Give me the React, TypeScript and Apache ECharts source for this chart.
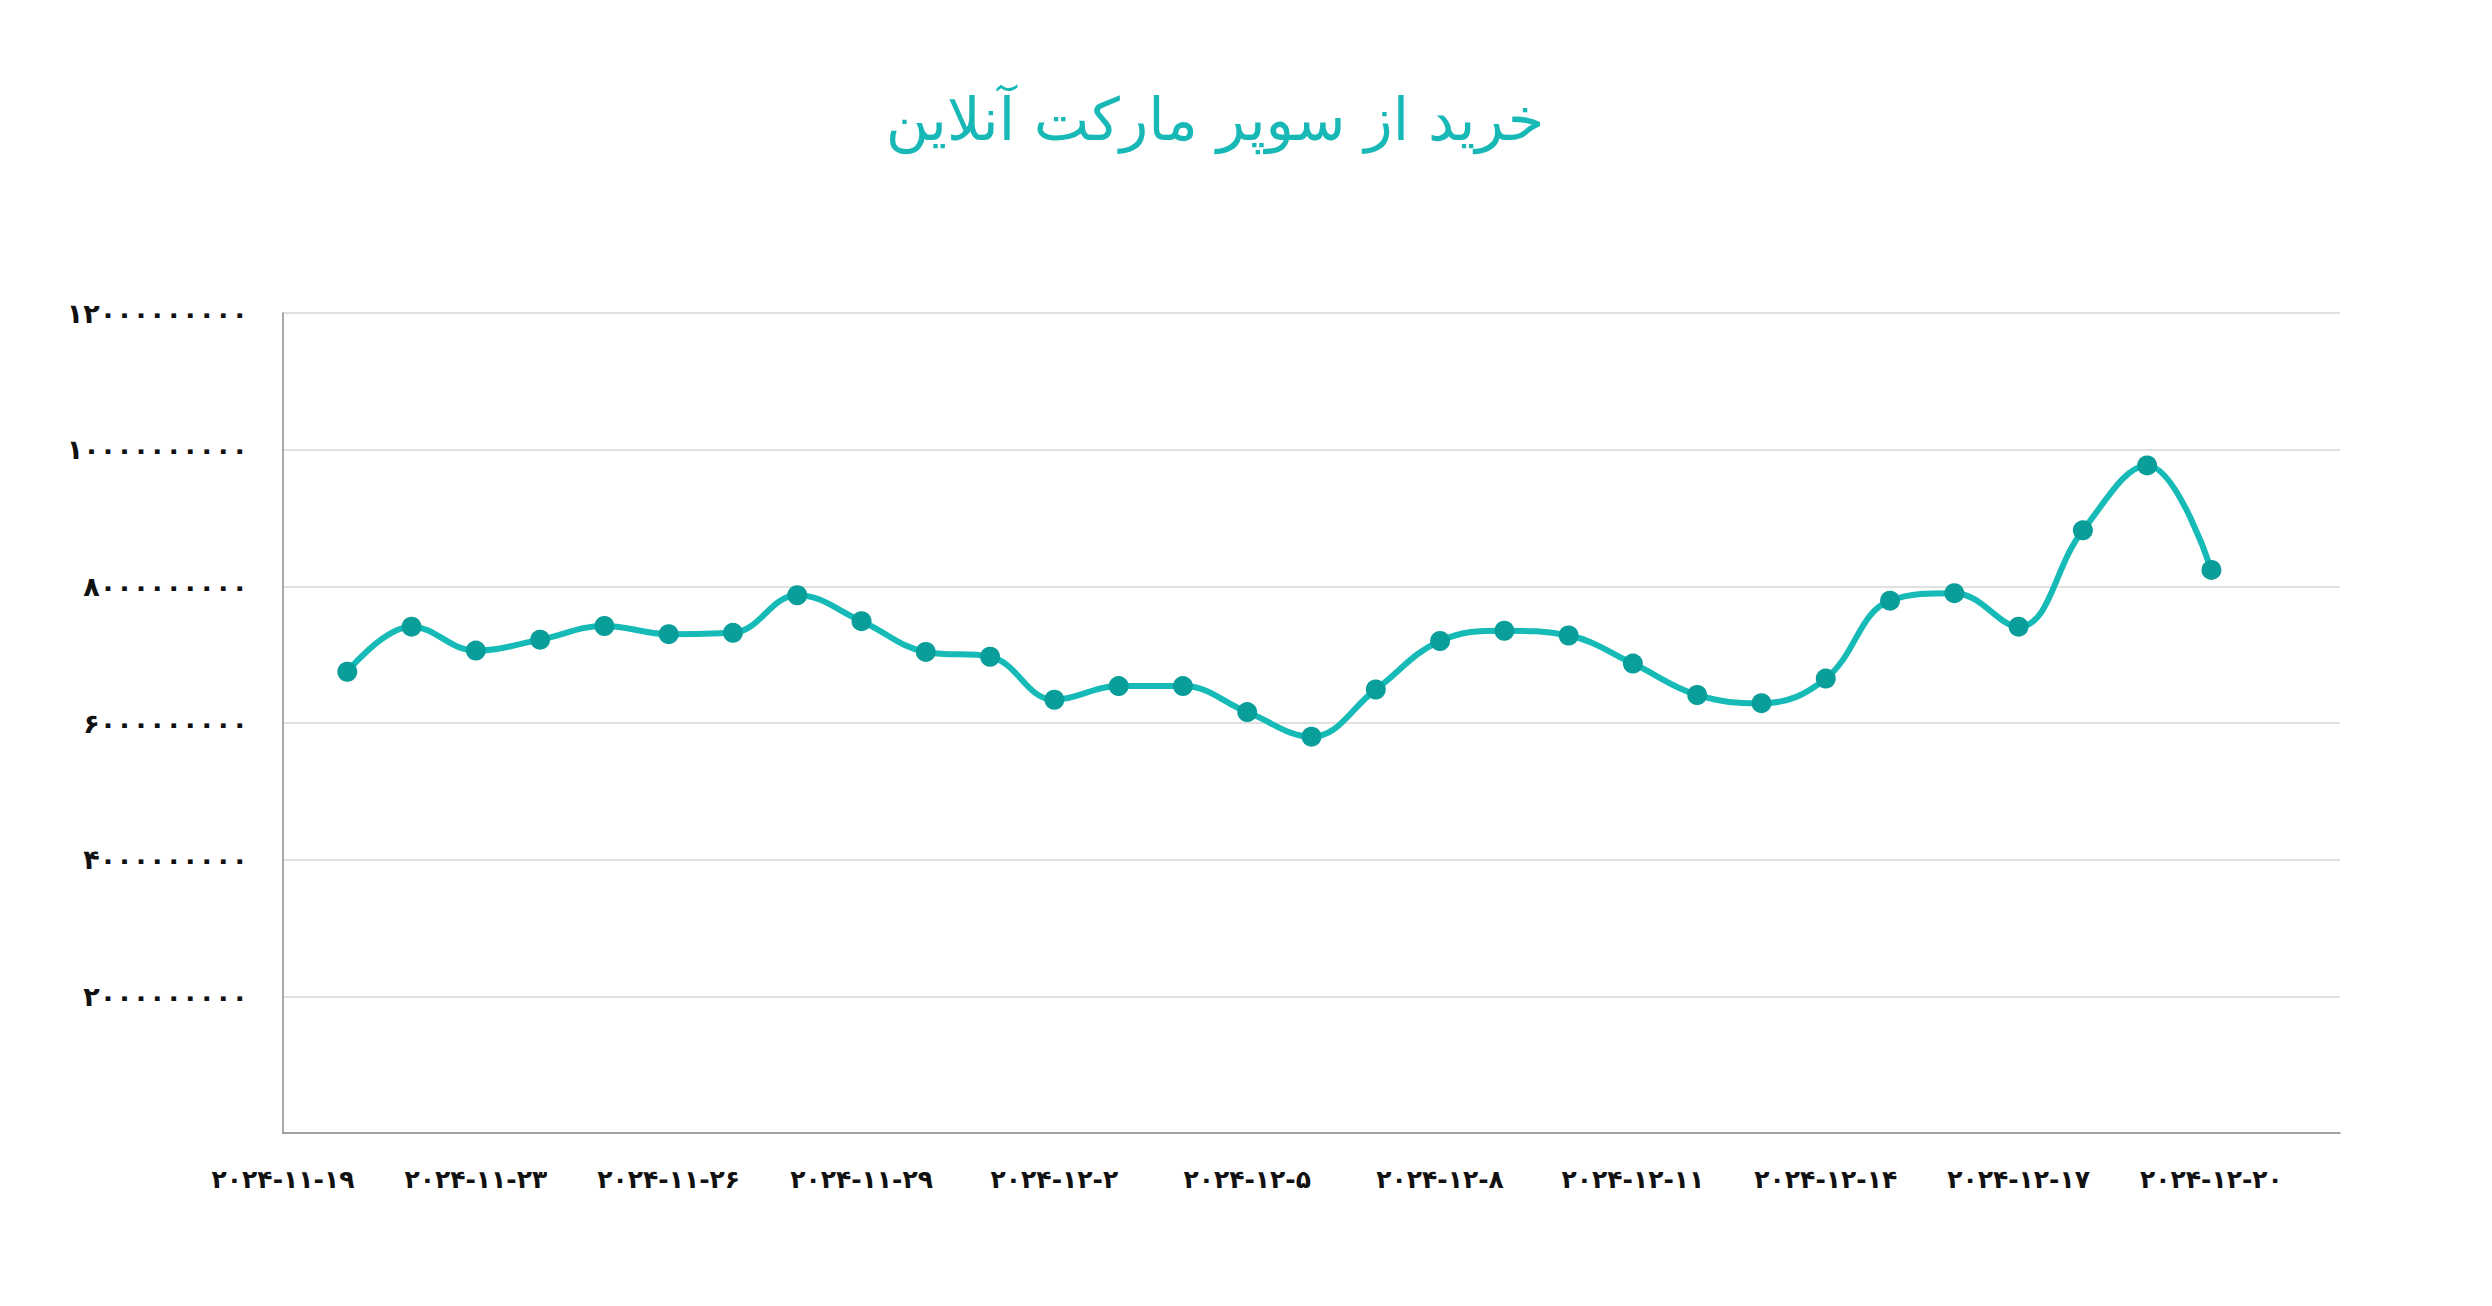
import React, { useEffect, useRef } from "react";
import * as echarts from "echarts";

// Daily purchase totals (Rial), one value per day from 2024-11-21 to 2024-12-20
const days: string[] = [
  "2024-11-20", "2024-11-21", "2024-11-22", "2024-11-23", "2024-11-24", "2024-11-25",
  "2024-11-26", "2024-11-27", "2024-11-28", "2024-11-29", "2024-11-30", "2024-12-01",
  "2024-12-02", "2024-12-03", "2024-12-04", "2024-12-05", "2024-12-06", "2024-12-07",
  "2024-12-08", "2024-12-09", "2024-12-10", "2024-12-11", "2024-12-12", "2024-12-13",
  "2024-12-14", "2024-12-15", "2024-12-16", "2024-12-17", "2024-12-18", "2024-12-19",
  "2024-12-20", "2024-12-21", "2024-12-22",
];

const purchases: number[] = [
  6.75e9, 7.41e9, 7.06e9, 7.22e9, 7.42e9, 7.3e9, 7.32e9, 7.87e9, 7.49e9, 7.04e9,
  6.97e9, 6.34e9, 6.54e9, 6.54e9, 6.16e9, 5.8e9, 6.49e9, 7.2e9, 7.35e9, 7.28e9,
  6.87e9, 6.41e9, 6.29e9, 6.65e9, 7.79e9, 7.9e9, 7.41e9, 8.82e9, 9.77e9, 8.24e9,
];

// Labels shown under every third day of the axis
const xTickLabels: string[] = [
  "2024-11-19", "2024-11-23", "2024-11-26", "2024-11-29", "2024-12-2", "2024-12-5",
  "2024-12-8", "2024-12-11", "2024-12-14", "2024-12-17", "2024-12-20",
];

const yMax = 12000000000;
const yStep = 2000000000;

const title = "خرید از سوپر مارکت آنلاین";

const faDigits = "۰۱۲۳۴۵۶۷۸۹";
const toFa = (s: string) => s.replace(/\d/g, (d) => faDigits[Number(d)]);

const FONT = "'DejaVu Sans', sans-serif";

export default function App() {
  const ref = useRef<HTMLDivElement>(null);

  useEffect(() => {
    if (!ref.current) return;
    const chart = echarts.init(ref.current, null, { renderer: "svg" });

    // first day is an empty lead-in, last two days are empty trailing space
    const seriesData: (number | string)[] = ["-", ...purchases, "-", "-"];

    chart.setOption({
      animation: false,
      backgroundColor: "#ffffff",
      title: {
        text: title,
        left: 1210,
        top: 85,
        textAlign: "center",
        textStyle: {
          fontFamily: FONT,
          fontSize: 59,
          fontWeight: "normal",
          color: "#17b8b6",
        },
      },
      grid: {
        left: 283,
        right: 152,
        top: 313,
        bottom: 173,
      },
      xAxis: {
        type: "category",
        data: days,
        boundaryGap: false,
        axisLine: { show: true, lineStyle: { color: "#8c8c8c", width: 1.5 } },
        axisTick: { show: false },
        splitLine: { show: false },
        axisLabel: {
          interval: 2,
          margin: 34,
          fontFamily: FONT,
          fontSize: 25,
          fontWeight: "bold",
          color: "#111111",
          formatter: (_v: string, i: number) => toFa(xTickLabels[Math.round(i / 3)] ?? ""),
        },
      },
      yAxis: {
        type: "value",
        min: 0,
        max: yMax,
        interval: yStep,
        axisLine: { show: true, lineStyle: { color: "#8c8c8c", width: 1.5 } },
        axisTick: { show: false },
        splitLine: { show: true, lineStyle: { color: "#d6d6d6", width: 1.5 } },
        axisLabel: {
          margin: 35,
          fontFamily: FONT,
          fontSize: 27,
          fontWeight: "bold",
          color: "#111111",
          formatter: (v: number) => (v === 0 ? "" : toFa(String(v))),
        },
      },
      series: [
        {
          type: "line",
          data: seriesData,
          smooth: 0.4,
          symbol: "circle",
          symbolSize: 20,
          showSymbol: true,
          lineStyle: { color: "#16bab6", width: 6 },
          itemStyle: { color: "#0a9e9a", borderWidth: 0 },
        },
      ],
    });

    return () => chart.dispose();
  }, []);

  return (
    <div
      ref={ref}
      style={{ position: "fixed", left: 0, top: 0, width: 2492, height: 1306 }}
    />
  );
}
